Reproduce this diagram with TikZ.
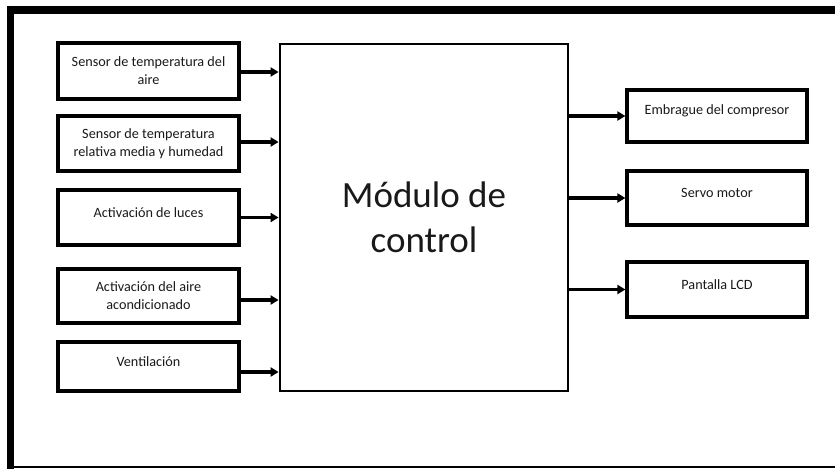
\documentclass[tikz,border=0pt]{standalone}
\usepackage{fontspec}
\setmainfont{Carlito}
\usepackage{tikz}
\usetikzlibrary{arrows.meta}
\usepackage{xcolor}
\newcommand{\liftup}[1]{\raisebox{5pt}[\height][\depth]{#1}}

\begin{document}
\begin{tikzpicture}[x=1pt,y=-1pt,>={Triangle[length=8pt,width=9pt]},line width=3.2pt,
  blk/.style={draw,rectangle,inner sep=2pt,align=center,text=black!90,font=\fontsize{14.2}{18}\selectfont},
  inbox/.style={blk,minimum width=181pt},
  outbox/.style={blk,minimum width=180pt}]
\useasboundingbox (0,0) rectangle (835,469);
% page frame
\draw[line width=8pt] (10.5,10) -- (840,10);
\draw[line width=7pt] (10.5,6) -- (10.5,469);
\draw[line width=1.5pt] (10.5,467) -- (840,467);
% control module
\node[draw,rectangle,line width=2.8pt,minimum width=288pt,minimum height=347pt,align=center,text=black!90,
  font=\fontsize{37}{45}\selectfont] (ctrl) at (424,217.5) {Módulo de\\control};
% inputs
\node[inbox,minimum height=56pt] (s1) at (148.5,71) {Sensor de temperatura del\\aire};
\node[inbox,minimum height=55pt] (s2) at (148.5,143.5) {Sensor de temperatura\\relativa media y humedad};
\node[inbox,minimum height=55pt] (s3) at (148.5,217.5) {\liftup{Activación de luces}};
\node[inbox,minimum height=54pt] (s4) at (148.5,296) {Activación del aire\\acondicionado};
\node[inbox,minimum height=49pt] (s5) at (148.5,366.5) {\liftup{Ventilación}};
% outputs
\node[outbox,minimum height=52pt] (o1) at (717,116) {\liftup{Embrague del compresor}};
\node[outbox,minimum height=54pt] (o2) at (717,198) {\liftup{Servo motor}};
\node[outbox,minimum height=55pt] (o3) at (717,289.5) {\liftup{Pantalla LCD}};
% arrows
\coordinate (a1) at ([yshift=-1pt]s1.east);
\coordinate (a2) at ([yshift=1.5pt]s2.east);
\coordinate (a4) at ([yshift=-4pt]s4.east);
\coordinate (a5) at ([yshift=-5.5pt]s5.east);
\draw[->] (a1) -- (a1 -| ctrl.west);
\draw[->] (a2) -- (a2 -| ctrl.west);
\draw[->] (s3.east) -- (s3.east -| ctrl.west);
\draw[->] (a4) -- (a4 -| ctrl.west);
\draw[->] (a5) -- (a5 -| ctrl.west);
\draw[->] (o1.west -| ctrl.east) -- (o1);
\draw[->] (o2.west -| ctrl.east) -- (o2);
\draw[->] (o3.west -| ctrl.east) -- (o3);
\end{tikzpicture}
\end{document}
